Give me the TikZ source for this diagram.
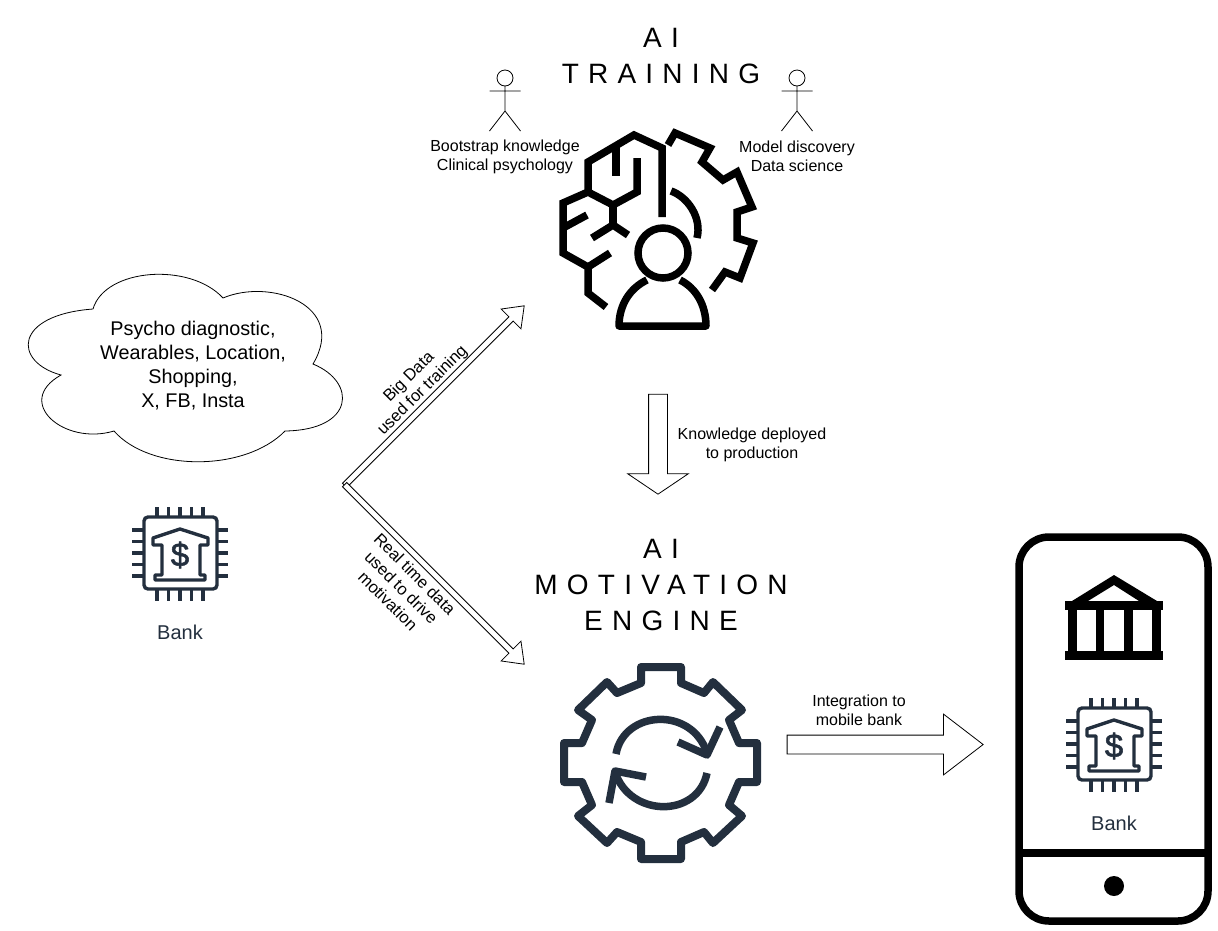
\documentclass[tikz,border=0pt]{standalone}
\usepackage{fontspec}
\setmainfont{Liberation Sans}
\newfontfamily\titlefont[LetterSpace=33]{Liberation Sans}
\newfontfamily\dollarfont[FakeBold=1.6]{Liberation Sans}
\usetikzlibrary{positioning,shapes.arrows}
\definecolor{banknavy}{RGB}{35,47,62}
\tikzset{
  lbl/.style={font=\fontsize{16}{19}\selectfont,align=center,inner sep=0pt},
  rotlbl/.style={lbl,font=\fontsize{16.6}{19}\selectfont},
  cloudlbl/.style={font=\fontsize{19.8}{24}\selectfont,align=center,inner sep=0pt},
  banklbl/.style={font=\fontsize{20}{22}\selectfont,text=banknavy,inner sep=0pt},
  titlelbl/.style={font=\fontsize{28}{36}\selectfont\titlefont,align=center,inner sep=0pt},
  hollowarr/.style={draw,fill=white,single arrow,inner xsep=0pt,outer sep=0pt,line width=0.8pt},
  thinarr/.style={hollowarr,inner ysep=2.6pt,minimum width=27pt,single arrow head extend=11pt,single arrow tip angle=74},
  blockarr/.style={hollowarr,inner ysep=9pt,minimum width=60pt,single arrow head extend=21pt},
  brainline/.style={line width=7.5pt,miter limit=4},
  gearline/.style={draw=banknavy,line width=8pt,line join=round},
  refreshline/.style={draw=banknavy,line width=7.5pt,line join=round},
  pinline/.style={draw=banknavy,line width=3.4pt},
  bankchip/.pic={
    \draw[pinline,rounded corners=4pt](-36,-36) rectangle (37,36);
    \foreach \d in {-23,-11.5,0,11.5,23}{
      \draw[pinline](\d,-46)--(\d,-36);
      \draw[pinline](\d,36)--(\d,48);
      \draw[pinline](-48,\d)--(-36,\d);
      \draw[pinline](37,\d)--(48,\d);
    }
    \draw[pinline,line join=round](-27,-15)--(0,-24)--(28,-15)--(28,-8)--(20,-8)--(20,22)--(25,22)
      --(25,27)--(-25,27)--(-25,22)--(-18,22)--(-18,-8)--(-27,-8)--cycle;
    \node[font=\fontsize{33}{33}\selectfont\dollarfont,text=banknavy,inner sep=0pt](-dollar) at (0,2){\$};
  },
  actor/.pic={
    \draw[line width=0.8pt](0,-8) circle[radius=8pt];
    \draw[line width=0.8pt](0,0)--(0,25) (-15.5,5)--(15.5,5) (-15.5,45)--(0,25)--(15.5,45);
  },
}
\begin{document}
\begin{tikzpicture}[x=1pt,y=-1pt]
  \useasboundingbox (0,0) rectangle (1218,930);

  % titles
  \node[titlelbl](trainttl) at (661,56){AI\\TRAINING};
  \node[titlelbl](motivttl) at (661,585){AI\\MOTIVATION\\ENGINE};

  % people
  \pic (trainer) at (505,86) {actor};
  \pic (scientist) at (797,86) {actor};
  \node[lbl](bootlbl) at (505,156.5){Bootstrap knowledge\\Clinical psychology};
  \node[lbl](modellbl) at (797,156.5){Model discovery\\Data science};

  % brain
  \draw[brainline](662,217)--(662,148)--(634,135)--(588,162)--(588,192)--(563,203)--(563,253)
    --(588,267)--(588,293)--(606,307);
  \draw[brainline](616,147)--(616,176);
  \draw[brainline](637,158)--(637,192)--(613,205)--(588,192);
  \draw[brainline](613,205)--(613,225);
  \draw[brainline](592,238)--(613,225)--(628,235);
  \draw[brainline](563,228)--(587,215);
  \draw[brainline](588,267)--(610,253);
  \draw[brainline](668,145)--(675,133)--(710,148)--(702,162)--(723,180)--(737,172)--(752,207)
    --(737,212)--(737,238)--(753,243)--(740,278)--(725,272)--(712,290);
  \draw[brainline](671,191) .. controls (688,197) and (702,218) .. (697,238);
  \draw[brainline](663,253) circle[radius=25pt];
  \draw[brainline,line join=round](647,280) .. controls (630,288) and (619,305) .. (619,326)
    --(706,326) .. controls (706,305) and (696,288) .. (680,280);

  % cloud
  \draw[line width=0.8pt](93,309) .. controls (105,268) and (190,262) .. (223,298)
    .. controls (270,278) and (348,305) .. (313,364)
    .. controls (357,382) and (355,430) .. (285,431)
    .. controls (245,472) and (150,472) .. (114,431)
    .. controls (64,446) and (13,402) .. (61,375)
    .. controls (13,362) and (13,315) .. (93,309);
  \node[cloudlbl](sources) at (193,366){Psycho diagnostic,\\Wearables, Location,\\Shopping,\\X, FB, Insta};

  % bank
  \pic (bankchip) at (180,553) {bankchip};
  \node[banklbl](banklbl) at (180,632){Bank};

  % arrows
  \node[thinarr,minimum height=254pt,rotate=45](bigdata) at (433,397){};
  \node[thinarr,minimum height=254pt,rotate=-45](realtime) at (433,573){};
  \node[blockarr,minimum height=100pt,rotate=-90,single arrow tip angle=112](deploy) at (658,441){};
  \node[blockarr,minimum height=196pt,single arrow tip angle=75](integrate) at (879,744.5){};
  \node[rotlbl,rotate=45](bigdatalbl) at (416,384){Big Data\\used for training};
  \node[rotlbl,rotate=-45](realtimelbl) at (401.5,587.5){Real time data\\used to drive\\motivation};
  \node[lbl](deploylbl) at (752,445){Knowledge deployed\\to production};
  \node[lbl](integratelbl) at (859,710.5){Integration to\\mobile bank};

  % engine gear
  \draw[gearline](641,667)--(681,667)--(681,683)--(704,693)--(713,682)--(742,710)--(729,720)
    --(739,743)--(757,743)--(757,782)--(739,782)--(729,805)--(742,816)--(713,843)--(704,832)
    --(681,842)--(681,859)--(641,859)--(641,842)--(617,832)--(607,843)--(578,816)--(592,805)
    --(582,782)--(564,782)--(564,743)--(582,743)--(592,720)--(578,710)--(607,682)--(617,693)
    --(641,683)--cycle;
  \draw[refreshline](616,754) .. controls (624,710) and (692,706) .. (707,753);
  \draw[refreshline](678,742)--(707,755)--(720,727);
  \draw[refreshline](707,773) .. controls (698,818) and (630,818) .. (615,772);
  \draw[refreshline](646,777)--(615,771)--(609,803);

  % phone
  \draw[line width=7.5pt,rounded corners=30pt](1019,537) rectangle (1208,921);
  \draw[line width=7.5pt](1019,853)--(1208,853);
  \fill (1114,886) circle[radius=10pt];
  \fill (1065,601) rectangle (1163,610);
  \fill (1065,651) rectangle (1163,660);
  \foreach \x in {1068,1095.5,1124,1152}{
    \fill (\x,610) rectangle (\x+8.5,651);
  }
  \fill[even odd rule](1072,601)--(1114,575)--(1157,601)--cycle (1088,601)--(1114,585)--(1139,601)--cycle;
  \pic (phonechip) at (1114,744) {bankchip};
  \node[banklbl](phonelbl) at (1114,823){Bank};
\end{tikzpicture}
\end{document}
